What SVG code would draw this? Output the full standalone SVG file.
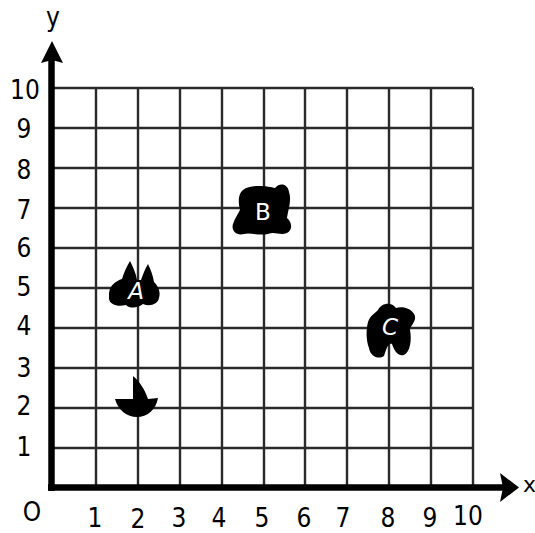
<svg xmlns="http://www.w3.org/2000/svg" width="535" height="533" viewBox="0 0 535 533">
<style>
.grid line{stroke:#2a2a2a;stroke-width:2.4}
.axis{stroke:#000;stroke-width:6.5;fill:none}
.lbl{font-family:"DejaVu Sans Condensed","DejaVu Sans",sans-serif;font-size:26px;fill:#000;text-anchor:middle}
.blob{fill:#000}
.in{font-family:"DejaVu Sans",sans-serif;font-size:23px;fill:#fff;text-anchor:middle}
</style>
<rect width="535" height="533" fill="#fff"/>
<g class="grid">
<line x1="96" y1="88" x2="96" y2="488"/><line x1="138" y1="88" x2="138" y2="488"/><line x1="180" y1="88" x2="180" y2="488"/><line x1="222" y1="88" x2="222" y2="488"/><line x1="264" y1="88" x2="264" y2="488"/><line x1="305" y1="88" x2="305" y2="488"/><line x1="347" y1="88" x2="347" y2="488"/><line x1="389" y1="88" x2="389" y2="488"/><line x1="431" y1="88" x2="431" y2="488"/><line x1="473" y1="88" x2="473" y2="488"/>
<line x1="52" y1="88" x2="473" y2="88"/><line x1="52" y1="128" x2="473" y2="128"/><line x1="52" y1="168" x2="473" y2="168"/><line x1="52" y1="208" x2="473" y2="208"/><line x1="52" y1="248" x2="473" y2="248"/><line x1="52" y1="288" x2="473" y2="288"/><line x1="52" y1="328" x2="473" y2="328"/><line x1="52" y1="368" x2="473" y2="368"/><line x1="52" y1="408" x2="473" y2="408"/><line x1="52" y1="448" x2="473" y2="448"/>
</g>
<g id="axes">
<line class="axis" x1="51.5" y1="491" x2="51.5" y2="58"/>
<polygon points="52,41 41,63 52,60 63,63" fill="#000"/>
<line class="axis" x1="48" y1="487.5" x2="503" y2="487.5"/>
<polygon points="519,487.5 500,473 503,487.5 500,502" fill="#000"/>
</g>
<g id="labels">
<text class="lbl" x="53" y="26" font-size="25">y</text>
<text x="523" y="492" style="font-family:'DejaVu Sans',sans-serif;font-size:22px">x</text>
<text class="lbl" x="32" y="521" font-size="28">O</text>
<text class="lbl" x="25" y="99">10</text>
<text class="lbl" x="24" y="138">9</text>
<text class="lbl" x="24" y="179">8</text>
<text class="lbl" x="24" y="219">7</text>
<text class="lbl" x="24" y="257">6</text>
<text class="lbl" x="24" y="296">5</text>
<text class="lbl" x="24" y="335">4</text>
<text class="lbl" x="24" y="377">3</text>
<text class="lbl" x="24" y="415">2</text>
<text class="lbl" x="24" y="456">1</text>
<text class="lbl" x="95" y="527">1</text>
<text class="lbl" x="138" y="528">2</text>
<text class="lbl" x="179" y="527">3</text>
<text class="lbl" x="219" y="527">4</text>
<text class="lbl" x="262" y="527">5</text>
<text class="lbl" x="304" y="527">6</text>
<text class="lbl" x="343" y="527">7</text>
<text class="lbl" x="388" y="527">8</text>
<text class="lbl" x="430" y="527">9</text>
<text class="lbl" x="468" y="525">10</text>
</g>
<g id="nodeA">
<path class="blob" d="M109,293 C110,285 116,281 122,279 C124,272 127,266 130,261 C133,267 136,273 137,280 L141,280 C143,274 145,269 148,264 C151,270 153,276 154,282 C158,286 161,292 159,298 C158,304 150,307 143,304 C138,308 130,309 126,305 C118,307 110,305 109,299 Z"/>
<text class="in" x="136" y="299" font-style="italic">A</text>
</g>
<g id="nodeB">
<path class="blob" d="M243,190 C250,184 268,186 275,188 C280,182 288,184 289,192 C292,200 288,210 287,218 C292,222 293,230 287,233 C280,236 275,231 268,234 C258,236 250,232 244,234 C236,236 231,230 233,224 C235,218 238,214 240,210 C238,202 238,194 243,190 Z"/>
<text class="in" x="263" y="220">B</text>
</g>
<g id="nodeC">
<path class="blob" d="M378,310 C382,302 392,302 396,308 C402,306 412,308 415,316 C416,322 410,326 410,330 C412,340 410,352 404,355 C398,357 394,350 392,344 C388,342 386,350 384,356 C378,360 370,356 369,348 C366,340 366,330 368,322 C370,316 374,314 378,310 Z"/>
<text class="in" x="390" y="335" font-style="italic">C</text>
</g>
<g id="nodeD">
<path class="blob" d="M133,376 C140,382 145,390 148,399 L158,398 C156,410 147,417 137,417 C127,417 118,410 115,399 L133,399 Z"/>
</g>
<g id="connectors"></g>
</svg>
